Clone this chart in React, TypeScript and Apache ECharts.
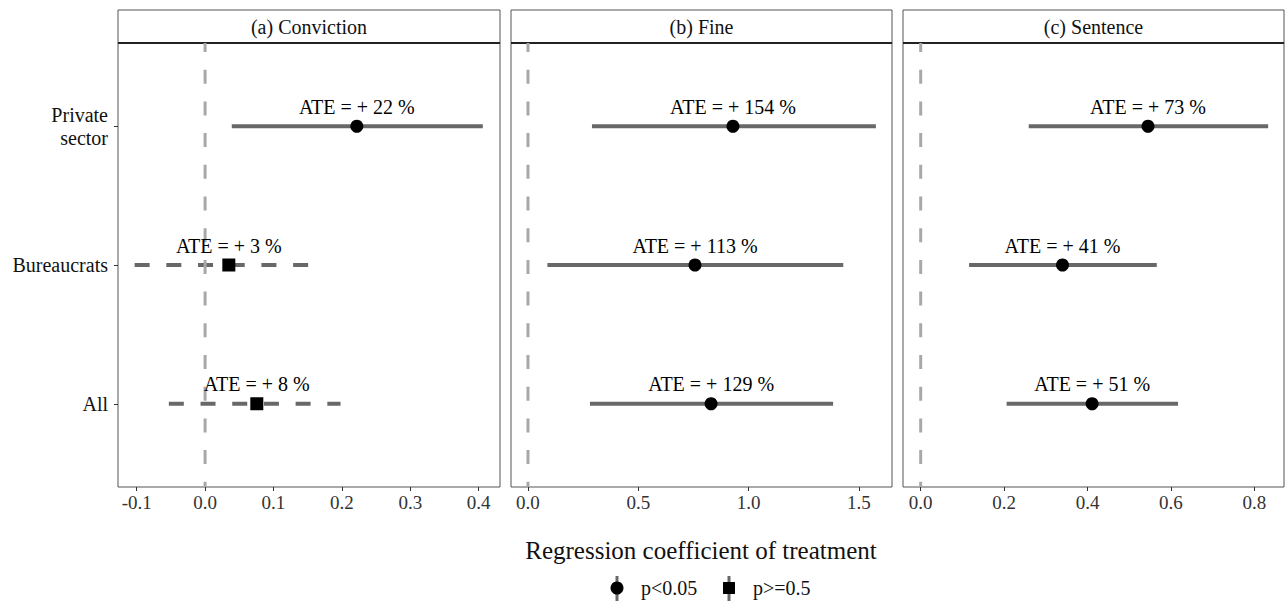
import React, { useEffect, useRef } from "react";
import * as echarts from "echarts";

const categories = ["All", "Bureaucrats", "Private\nsector"];
const catPos = [1, 2, 3];

const panelTitles = ["(a) Conviction", "(b) Fine", "(c) Sentence"];

const estA = [0.0756, 0.0347, 0.2218];
const loA = [-0.053, -0.103, 0.039];
const hiA = [0.198, 0.172, 0.406];
const ateA = [8, 3, 22];
const sigA = [false, false, true];

const estB = [0.83, 0.757, 0.929];
const loB = [0.281, 0.088, 0.29];
const hiB = [1.383, 1.429, 1.577];
const ateB = [129, 113, 154];
const sigB = [true, true, true];

const estC = [0.411, 0.34, 0.545];
const loC = [0.206, 0.116, 0.259];
const hiC = [0.617, 0.566, 0.833];
const ateC = [51, 41, 73];
const sigC = [true, true, true];

const ticksA = [-0.1, 0.0, 0.1, 0.2, 0.3, 0.4];
const ticksB = [0.0, 0.5, 1.0, 1.5];
const ticksC = [0.0, 0.2, 0.4, 0.6, 0.8];

const xRanges = [
  [-0.1273, 0.4311],
  [-0.077, 1.65],
  [-0.0424, 0.871],
];

const legendLabels = ["p<0.05", "p>=0.5"];
const axisTitle = "Regression coefficient of treatment";

const FONT = '"Liberation Serif", "Times New Roman", serif';

export default function App() {
  const ref = useRef<HTMLDivElement>(null);
  useEffect(() => {
    if (!ref.current) return;
    const chart = echarts.init(ref.current, null, { renderer: "svg" });
    const panels = [
      { est: estA, lo: loA, hi: hiA, ate: ateA, sig: sigA, ticks: ticksA },
      { est: estB, lo: loB, hi: hiB, ate: ateB, sig: sigB, ticks: ticksB },
      { est: estC, lo: loC, hi: hiC, ate: ateC, sig: sigC, ticks: ticksC },
    ];
    const grids = [
      { left: 118, width: 382 },
      { left: 511, width: 381 },
      { left: 903, width: 381 },
    ];
    const top = 43;
    const bottom = 487;
    const series: any[] = [];
    const graphics: any[] = [];
    panels.forEach((p, i) => {
      const ciData = p.est.map((_, k) => [p.lo[k], p.hi[k], catPos[k], p.sig[k] ? 1 : 0]);
      series.push({
        type: "custom",
        xAxisIndex: i,
        yAxisIndex: i,
        z: 2,
        silent: true,
        encode: { x: [0, 1], y: 2 },
        data: ciData,
        renderItem: (params: any, api: any) => {
          const a = api.coord([api.value(0), api.value(2)]);
          const b = api.coord([api.value(1), api.value(2)]);
          const sig = api.value(3) === 1;
          return {
            type: "line",
            shape: { x1: a[0], y1: a[1], x2: b[0], y2: b[1] },
            style: {
              stroke: "#686868",
              lineWidth: 4,
              lineDash: sig ? null : [15, 16.7],
            },
          };
        },
      });
      series.push({
        type: "line",
        xAxisIndex: i,
        yAxisIndex: i,
        z: 3,
        silent: true,
        symbol: "none",
        data: [
          [0, 3.6],
          [0, 0.4],
        ],
        lineStyle: { color: "#a8a8a8", width: 3, type: [14, 17.7], dashOffset: 5, opacity: 1 },
      });
      const mk = (want: boolean) =>
        p.est
          .map((v, k) => ({ value: [v, catPos[k]], ate: p.ate[k], sig: p.sig[k] }))
          .filter((d) => d.sig === want)
          .map((d) => ({ value: d.value, ate: d.ate }));
      [true, false].forEach((want) => {
        series.push({
          type: "scatter",
          xAxisIndex: i,
          yAxisIndex: i,
          z: 4,
          silent: true,
          symbol: want ? "circle" : "rect",
          symbolSize: 13,
          itemStyle: { color: "#000", opacity: 1 },
          data: mk(want),
          label: {
            show: true,
            position: "top",
            distance: 3,
            color: "#000",
            opacity: 1,
            fontFamily: FONT,
            fontSize: 20,
            formatter: (prm: any) => `ATE = + ${prm.data.ate} %`,
          },
        });
      });
      const g = grids[i];
      graphics.push({
        type: "rect",
        shape: { x: g.left, y: 10, width: g.width, height: 33 },
        style: { fill: "#fff", stroke: "#555", lineWidth: 1 },
      });
      graphics.push({
        type: "line",
        shape: { x1: g.left, y1: 43, x2: g.left + g.width, y2: 43 },
        style: { stroke: "#222", lineWidth: 2 },
      });
      graphics.push({
        type: "text",
        x: g.left + g.width / 2,
        y: 27,
        style: {
          text: panelTitles[i],
          fill: "#111",
          font: `20px ${FONT}`,
          align: "center",
          verticalAlign: "middle",
        },
      });
    });
    graphics.push({
      type: "text",
      x: 701,
      y: 550,
      style: {
        text: axisTitle,
        fill: "#111",
        font: `25px ${FONT}`,
        align: "center",
        verticalAlign: "middle",
      },
    });
    const legendX = [617, 729];
    legendX.forEach((lx, k) => {
      graphics.push({
        type: "line",
        shape: { x1: lx, y1: 576, x2: lx, y2: 601 },
        style: { stroke: "#686868", lineWidth: 3 },
      });
      if (k === 0) {
        graphics.push({ type: "circle", shape: { cx: lx, cy: 588, r: 6.5 }, style: { fill: "#000" } });
      } else {
        graphics.push({ type: "rect", shape: { x: lx - 6, y: 582, width: 12, height: 12 }, style: { fill: "#000" } });
      }
      graphics.push({
        type: "text",
        x: lx + 24,
        y: 588,
        style: {
          text: legendLabels[k],
          fill: "#111",
          font: `20px ${FONT}`,
          align: "left",
          verticalAlign: "middle",
        },
      });
    });

    const option: any = {
      animation: false,
      backgroundColor: "#fff",
      grid: grids.map((g) => ({
        left: g.left,
        width: g.width,
        top: top,
        height: bottom - top,
        show: true,
        borderColor: "#555",
        borderWidth: 1,
        backgroundColor: "transparent",
      })),
      xAxis: panels.map((p, i) => ({
        type: "value",
        gridIndex: i,
        min: xRanges[i][0],
        max: xRanges[i][1],
        axisLine: { show: false, onZero: false },
        splitLine: { show: false },
        axisTick: { show: true, length: 4, customValues: p.ticks, lineStyle: { color: "#333", width: 1 } },
        axisLabel: {
          customValues: p.ticks,
          margin: 6,
          color: "#333",
          fontFamily: FONT,
          fontSize: 19,
          formatter: (v: number) => v.toFixed(1),
        },
      })),
      yAxis: panels.map((p, i) => ({
        type: "value",
        gridIndex: i,
        min: 0.4,
        max: 3.6,
        axisLine: { show: false, onZero: false },
        splitLine: { show: false },
        axisTick: { show: i === 0, length: 4, customValues: catPos, lineStyle: { color: "#333", width: 1 } },
        axisLabel: {
          show: i === 0,
          customValues: catPos,
          margin: 10,
          color: "#111",
          fontFamily: FONT,
          fontSize: 20,
          lineHeight: 23,
          align: "right",
          formatter: (v: number) => {
            const k = catPos.indexOf(Math.round(v));
            return k >= 0 ? categories[k] : "";
          },
        },
      })),
      series,
      graphic: graphics,
    };
    chart.setOption(option);
    return () => chart.dispose();
  }, []);
  return (
    <div
      ref={ref}
      style={{ position: "absolute", left: 0, top: 0, width: 1285, height: 602 }}
    />
  );
}
